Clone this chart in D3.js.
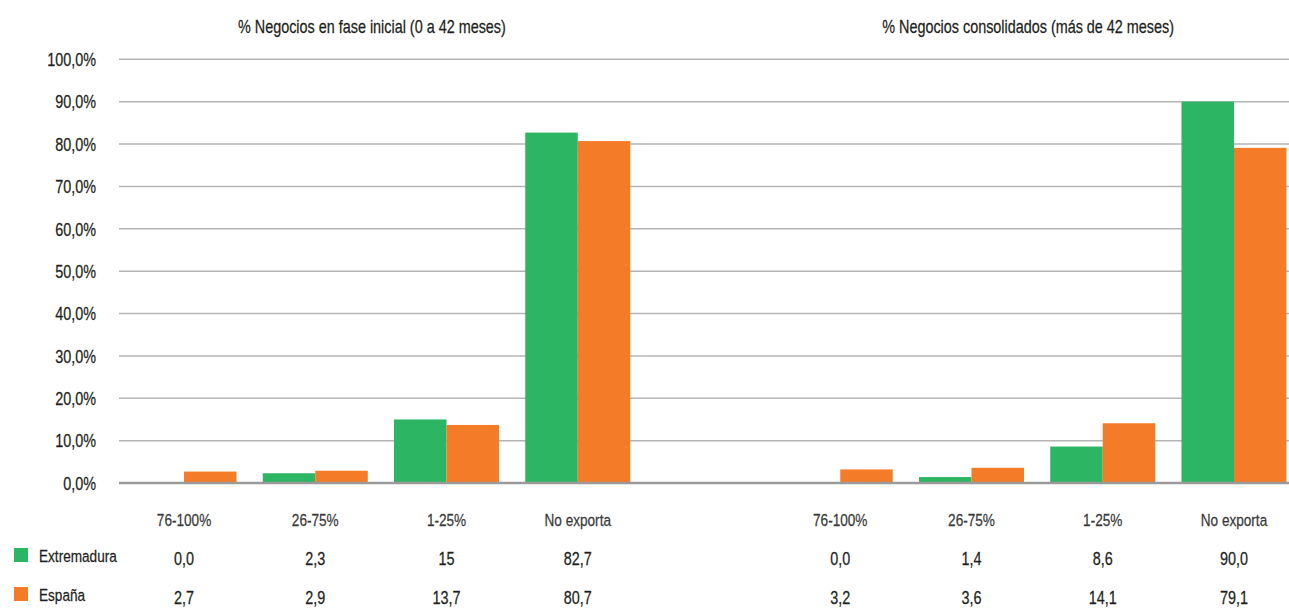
<!DOCTYPE html>
<html>
<head>
<meta charset="utf-8">
<script src="https://cdnjs.cloudflare.com/ajax/libs/d3/7.8.5/d3.min.js"></script>
<style>
  body { margin: 0; background: #fff; }
  svg text { font-family: "Liberation Sans", "DejaVu Sans", sans-serif; fill: #231f20; stroke: #231f20; stroke-width: 0.25; }
</style>
</head>
<body>
<svg id="chart" width="1289" height="610"></svg>
<script>
// categorias de cada panel
var categories = ["76-100%", "26-75%", "1-25%", "No exporta"];
var panels = ["% Negocios en fase inicial (0 a 42 meses)", "% Negocios consolidados (más de 42 meses)"];
var series = ["Extremadura", "España"];

// valores (%)
var extremaduraInicial = [0.0, 2.3, 15, 82.7];
var espanaInicial = [2.7, 2.9, 13.7, 80.7];
var extremaduraConsol = [0.0, 1.4, 8.6, 90.0];
var espanaConsol = [3.2, 3.6, 14.1, 79.1];

// etiquetas tal como aparecen en la tabla
var extremaduraInicialTxt = ["0,0", "2,3", "15", "82,7"];
var espanaInicialTxt = ["2,7", "2,9", "13,7", "80,7"];
var extremaduraConsolTxt = ["0,0", "1,4", "8,6", "90,0"];
var espanaConsolTxt = ["3,2", "3,6", "14,1", "79,1"];

var yTicks = [0, 10, 20, 30, 40, 50, 60, 70, 80, 90, 100];
var colors = ["#2cb562", "#f47b27"];

// la fuente original es condensada: se estrecha en horizontal
var squeeze = 0.8;

var svg = d3.select("#chart");

// 9 huecos: 4 + 1 vacio + 4
var slots = d3.range(9);
var x = d3.scaleBand().domain(slots).range([118.4, 1299.6]).paddingInner(0.2).paddingOuter(0.1);
var x1 = d3.scaleBand().domain(series).range([0, x.bandwidth()]);
var y = d3.scaleLinear().domain([0, 100]).range([483, 59.3]);

var rows = [];
categories.forEach(function(c, i) {
    rows.push({slot: i, cat: c, vals: [extremaduraInicial[i], espanaInicial[i]], txt: [extremaduraInicialTxt[i], espanaInicialTxt[i]]});
    rows.push({slot: i + 5, cat: c, vals: [extremaduraConsol[i], espanaConsol[i]], txt: [extremaduraConsolTxt[i], espanaConsolTxt[i]]});
});

function center(s) { return x(s) + x.bandwidth() / 2; }
function at(px, py) { return `translate(${px},${py}) scale(${squeeze},1)`; }

// rejilla
svg.append("g")
    .selectAll("line")
    .data(yTicks.slice(1))
    .join("line")
        .attr("x1", 119).attr("x2", 1289)
        .attr("y1", d => y(d)).attr("y2", d => y(d))
        .attr("stroke", "#b4b4b4")
        .attr("stroke-width", 1.5);

// eje y
svg.append("g")
    .attr("transform", "translate(96,0)")
    .call(d3.axisLeft(y).tickValues(yTicks).tickSize(0).tickPadding(0)
        .tickFormat(d => d3.format(".1f")(d).replace(".", ",") + "%"))
    .call(g => g.select(".domain").remove())
    .selectAll("text")
        .attr("font-size", 18)
        .attr("dy", "0.35em")
        .attr("transform", `scale(${squeeze},1)`);

// barras
svg.append("g")
    .selectAll("g")
    .data(rows)
    .join("g")
        .attr("transform", d => `translate(${x(d.slot)},0)`)
    .selectAll("rect")
    .data(d => d.vals.map((v, j) => ({s: series[j], v: v, j: j})))
    .join("rect")
        .attr("x", d => x1(d.s))
        .attr("width", x1.bandwidth())
        .attr("y", d => y(d.v))
        .attr("height", d => y(0) - y(d.v))
        .attr("fill", d => colors[d.j]);

// linea de cero
svg.append("line")
    .attr("x1", 119).attr("x2", 1289)
    .attr("y1", y(0)).attr("y2", y(0))
    .attr("stroke", "#9a9a9a")
    .attr("stroke-width", 2.5);

// titulos de panel
svg.append("g")
    .selectAll("text")
    .data(panels)
    .join("text")
        .attr("transform", (d, i) => at((center(i * 5) + center(i * 5 + 3)) / 2 - 9, 33))
        .attr("text-anchor", "middle")
        .attr("font-size", 18)
        .text(d => d);

// tabla de datos
var table = svg.append("g");
table.selectAll(".cat")
    .data(rows)
    .join("text")
        .attr("class", "cat")
        .attr("transform", d => at(center(d.slot), 526))
        .attr("text-anchor", "middle")
        .attr("font-size", 17)
        .style("fill", "#3a3a3a")
        .style("stroke", "#3a3a3a")
        .text(d => d.cat);

[565, 604].forEach(function(ty, j) {
    table.append("rect")
        .attr("x", 14).attr("y", ty - 17)
        .attr("width", 14).attr("height", 14)
        .attr("fill", colors[j]);
    table.append("text")
        .attr("transform", at(39, ty - 3))
        .attr("font-size", 17)
        .text(series[j]);
    table.selectAll(".v" + j)
        .data(rows)
        .join("text")
            .attr("class", "v" + j)
            .attr("transform", d => at(center(d.slot), ty))
            .attr("text-anchor", "middle")
            .attr("font-size", 18)
            .text(d => d.txt[j]);
});
</script>
</body>
</html>
